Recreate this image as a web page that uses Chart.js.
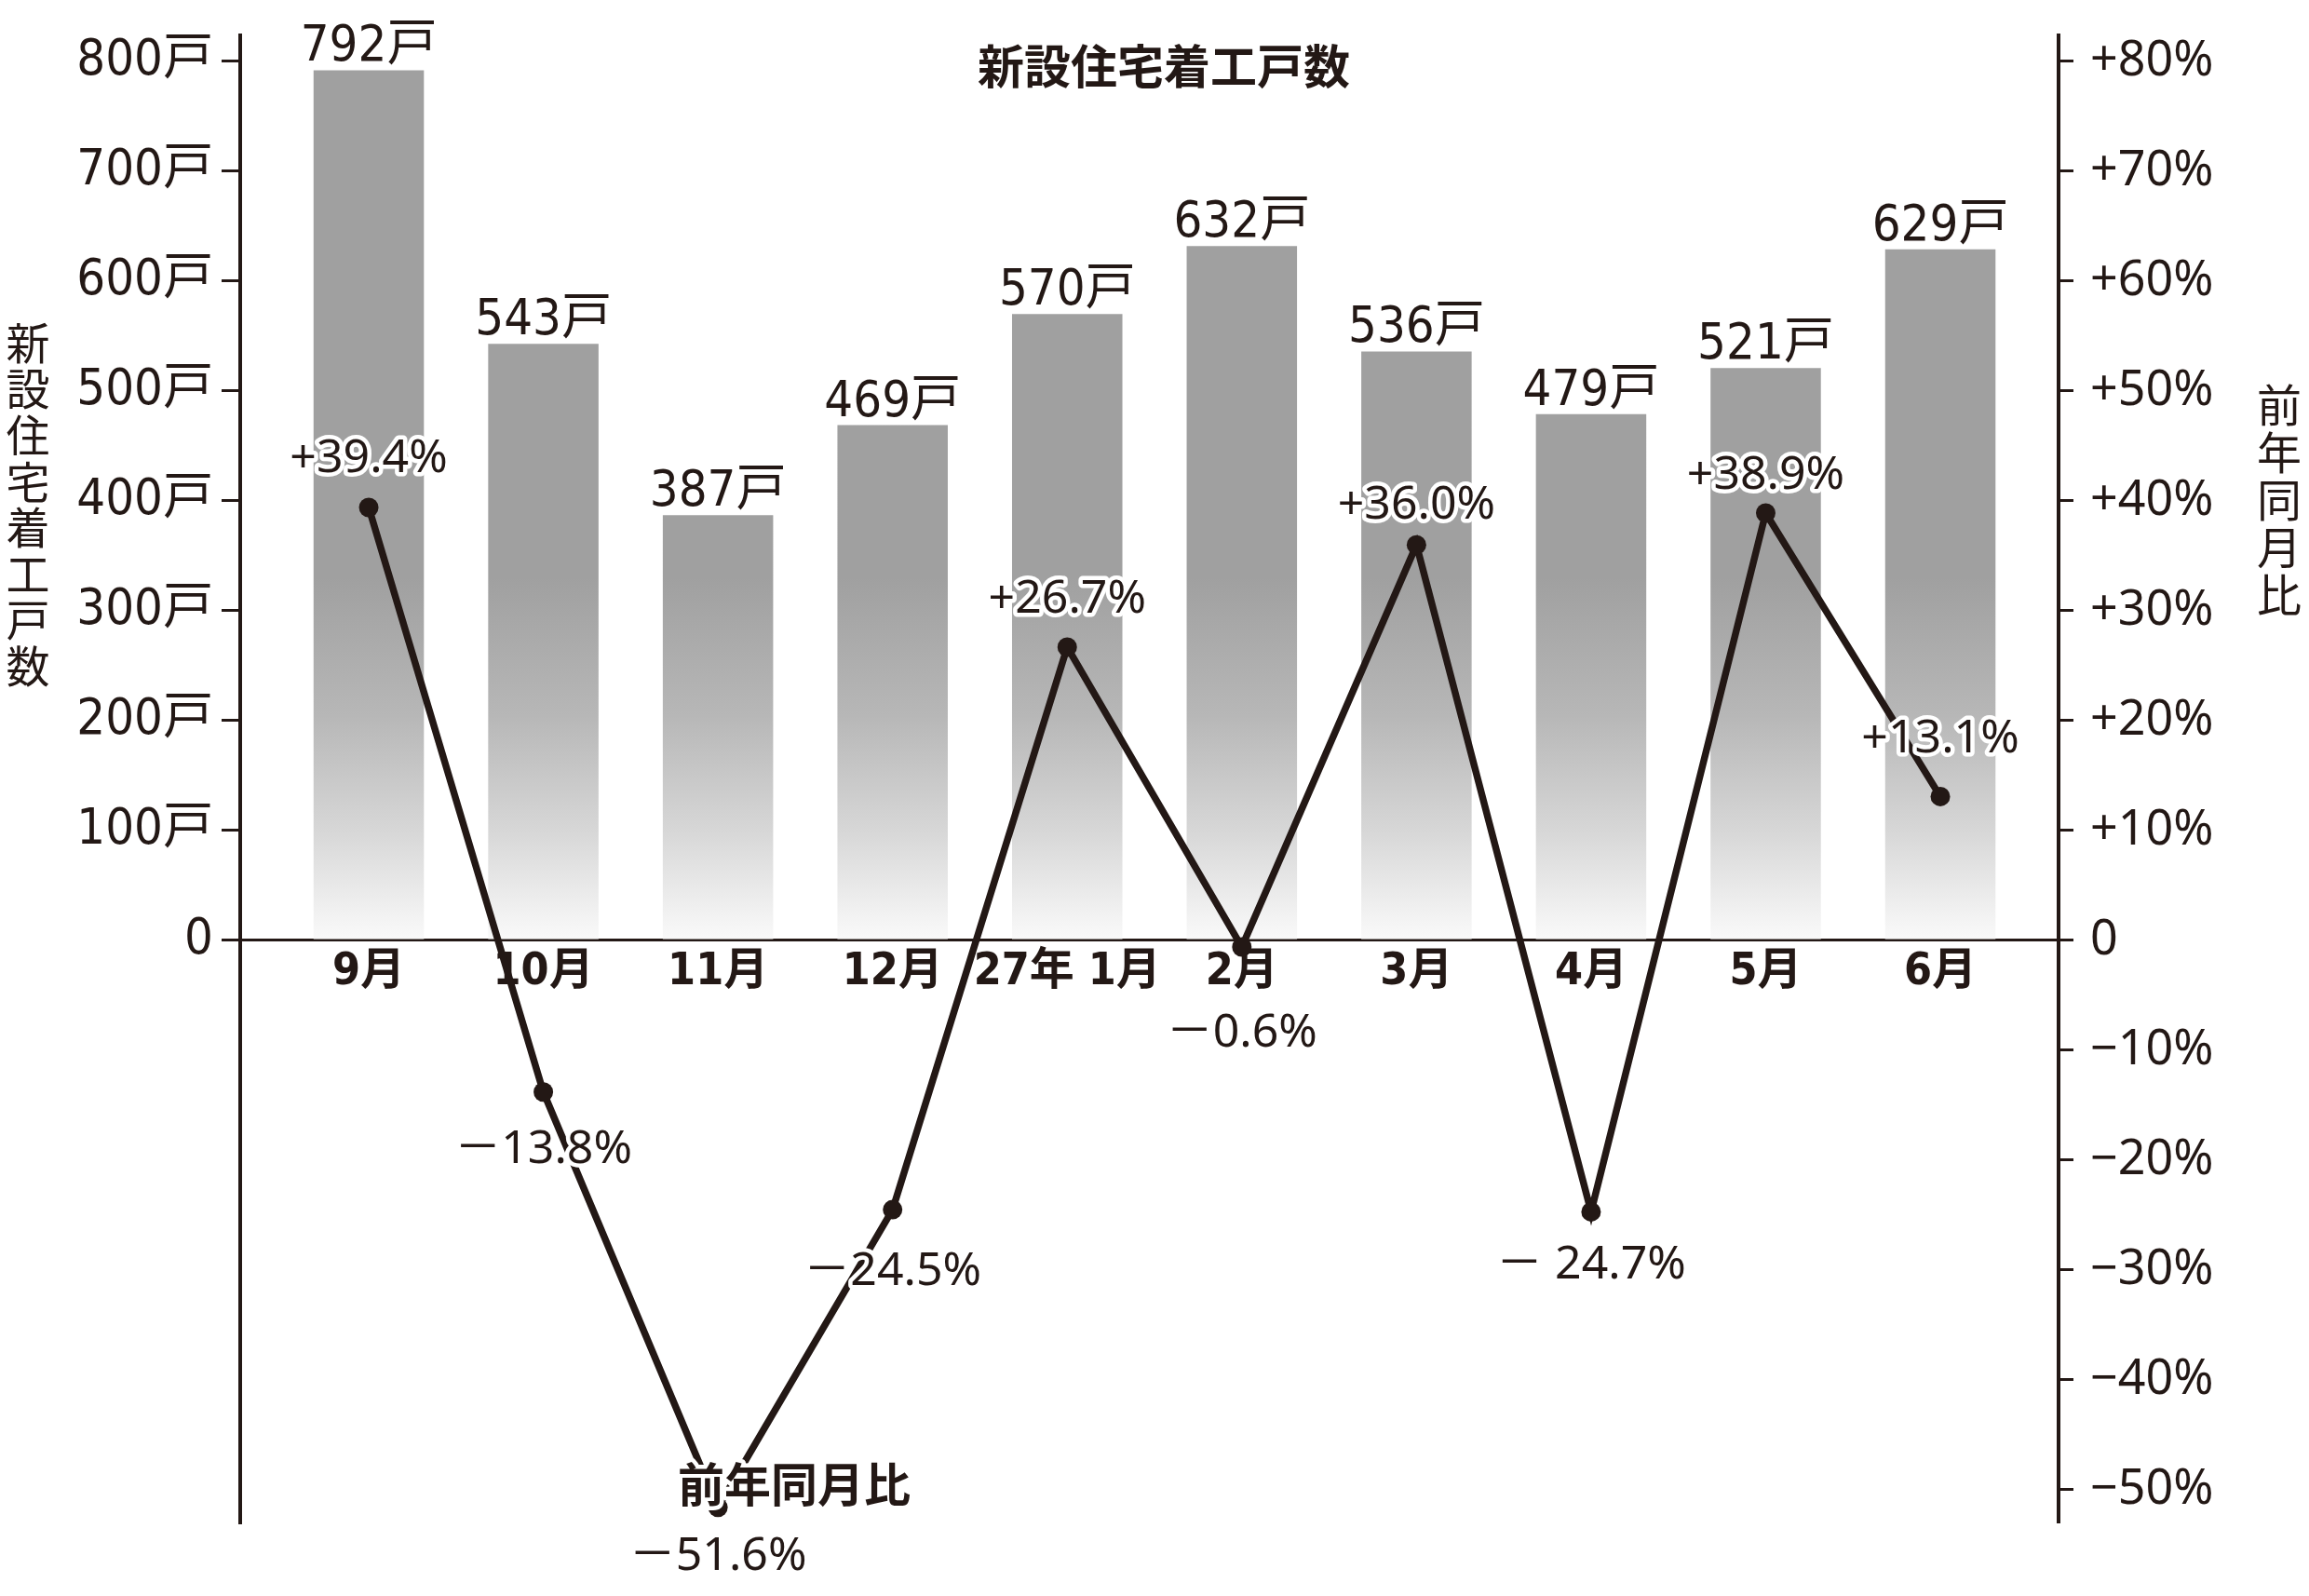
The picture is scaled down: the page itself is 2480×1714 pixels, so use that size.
<!DOCTYPE html>
<html lang="ja">
<head>
<meta charset="utf-8">
<title>新設住宅着工戸数</title>
<script src="https://cdn.jsdelivr.net/npm/chart.js@4.4.1/dist/chart.umd.min.js"></script>
<style>
  html, body { margin: 0; padding: 0; background: #fff; }
</style>
</head>
<body>
<canvas id="grafico" width="2480" height="1714"></canvas>
<script>
// datos
const tsuki = ["9月", "10月", "11月", "12月", "27年 1月", "2月", "3月", "4月", "5月", "6月"];
const kosu = [792, 543, 387, 469, 570, 632, 536, 479, 521, 629];
const zennen = [39.4, -13.8, -51.6, -24.5, 26.7, -0.6, 36.0, -24.7, 38.9, 13.1];
const zennenTxt = ["+39.4%", "－13.8%", "－51.6%", "－24.5%", "+26.7%", "－0.6%", "+36.0%", "－ 24.7%", "+38.9%", "+13.1%"];
const kosuTicks = [0, 100, 200, 300, 400, 500, 600, 700, 800];
const zennenTicks = [-50, -40, -30, -20, -10, 0, 10, 20, 30, 40, 50, 60, 70, 80];

// desplazamiento vertical de cada etiqueta de % respecto a su punto
const desplaz = [-52, 62, 53, 67, -51, 93, -42, 57, -40, -62];

const ink = "#231815";
const narrow = '"Liberation Sans Narrow", "DejaVu Sans Condensed", "Noto Sans CJK JP", sans-serif';
const sans = '"Noto Sans", "Noto Sans CJK JP", sans-serif';
const jp = '"Noto Sans CJK JP", sans-serif';

const ctx = document.getElementById("grafico");

function degradado(c) {
    const chart = c.chart;
    if (!chart.chartArea) return "#a0a0a0";
    const y = chart.scales.y;
    const g = chart.ctx.createLinearGradient(0, y.getPixelForValue(0), 0, y.getPixelForValue(330));
    g.addColorStop(0, "#fafafa");
    g.addColorStop(0.3, "#d7d7d7");
    g.addColorStop(0.62, "#b7b7b7");
    g.addColorStop(1, "#a0a0a0");
    return g;
}

function vertical(c, texto, x, y0, paso) {
    [...texto].forEach((ch, i) => c.fillText(ch, x, y0 + i * paso));
}

const etiquetas = {
    id: "etiquetas",
    afterDatasetsDraw(chart) {
        const c = chart.ctx;
        const puntos = chart.getDatasetMeta(0).data;
        const barras = chart.getDatasetMeta(1).data;
        c.save();
        c.fillStyle = ink;
        c.textAlign = "center";

        // valores de las barras
        c.font = `54px ${narrow}`;
        c.textBaseline = "alphabetic";
        barras.forEach((b, i) => c.fillText(kosu[i] + "戸", b.x, b.y - 10));

        // valores de la línea, con borde blanco
        c.font = `50px ${sans}`;
        c.textBaseline = "middle";
        c.lineJoin = "round";
        c.strokeStyle = "#fff";
        c.lineWidth = 9;
        puntos.forEach((p, i) => {
            const y = p.y + desplaz[i];
            c.strokeText(zennenTxt[i], p.x, y);
            c.fillText(zennenTxt[i], p.x, y);
        });

        // títulos
        c.font = `bold 50px ${jp}`;
        c.fillText("新設住宅着工戸数", 1250, 71);
        c.strokeText("前年同月比", 853, 1594);
        c.fillText("前年同月比", 853, 1594);

        c.font = `47px ${jp}`;
        vertical(c, "新設住宅着工戸数", 30, 368, 49.6);
        c.font = `48px ${jp}`;
        vertical(c, "前年同月比", 2448, 435, 51);
        c.restore();
    }
};

new Chart(ctx, {
    type: "bar",
    data: {
        datasets: [{
            type: "line",
            label: "前年同月比",
            data: zennen.map((v, i) => ({ x: i, y: v })),
            yAxisID: "y1",
            borderColor: ink,
            borderWidth: 7.5,
            pointRadius: 10.5,
            pointBackgroundColor: ink,
            pointBorderWidth: 0,
            tension: 0,
            clip: false,
            order: 1
        }, {
            type: "bar",
            label: "新設住宅着工戸数",
            data: kosu.map((v, i) => ({ x: i, y: v })),
            yAxisID: "y",
            backgroundColor: degradado,
            borderWidth: 0,
            barPercentage: 1,
            categoryPercentage: 0.632,
            order: 2
        }]
    },
    options: {
        responsive: false,
        animation: false,
        devicePixelRatio: 1,
        layout: { padding: { top: 38, bottom: 79, left: 0, right: 0 } },
        plugins: { legend: { display: false }, tooltip: { enabled: false } },
        scales: {
            x: {
                type: "linear",
                offset: false,
                position: { y: 0 },
                min: -0.736,
                max: 9.677,
                afterBuildTicks: s => { s.ticks = tsuki.map((t, i) => ({ value: i })); },
                afterFit: s => { s.paddingLeft = 0; s.paddingRight = 0; },
                grid: { display: false, drawTicks: false, offset: false },
                border: { display: false },
                ticks: {
                    padding: 6,
                    color: ink,
                    maxRotation: 0,
                    autoSkip: false,
                    font: { family: narrow, size: 48, weight: "bold" },
                    callback: v => tsuki[v] ?? ""
                }
            },
            y: {
                position: "left",
                min: -529.7,
                max: 823.7,
                afterFit: s => { s.width = 258; s.paddingTop = 0; s.paddingBottom = 0; },
                afterBuildTicks: s => { s.ticks = kosuTicks.map(v => ({ value: v })); },
                border: { display: true, color: ink, width: 4 },
                grid: {
                    drawOnChartArea: true,
                    color: c => (c.tick && c.tick.value === 0 ? ink : "rgba(0,0,0,0)"),
                    lineWidth: 3,
                    tickColor: ink,
                    tickWidth: 3,
                    tickLength: 20
                },
                ticks: {
                    padding: 9,
                    color: ink,
                    font: { family: narrow, size: 54 },
                    callback: v => (v === 0 ? "0" : v + "戸")
                }
            },
            y1: {
                position: "right",
                min: -52.97,
                max: 82.37,
                afterFit: s => { s.width = 269; s.paddingTop = 0; s.paddingBottom = 0; },
                afterBuildTicks: s => { s.ticks = zennenTicks.map(v => ({ value: v })); },
                border: { display: true, color: ink, width: 4 },
                grid: {
                    drawOnChartArea: false,
                    tickColor: ink,
                    tickWidth: 3,
                    tickLength: 16
                },
                ticks: {
                    padding: 18,
                    color: ink,
                    font: { family: sans, size: 52 },
                    callback: v => (v === 0 ? "0" : (v > 0 ? "+" : "−") + Math.abs(v) + "%")
                }
            }
        }
    },
    plugins: [etiquetas]
});
</script>
</body>
</html>
